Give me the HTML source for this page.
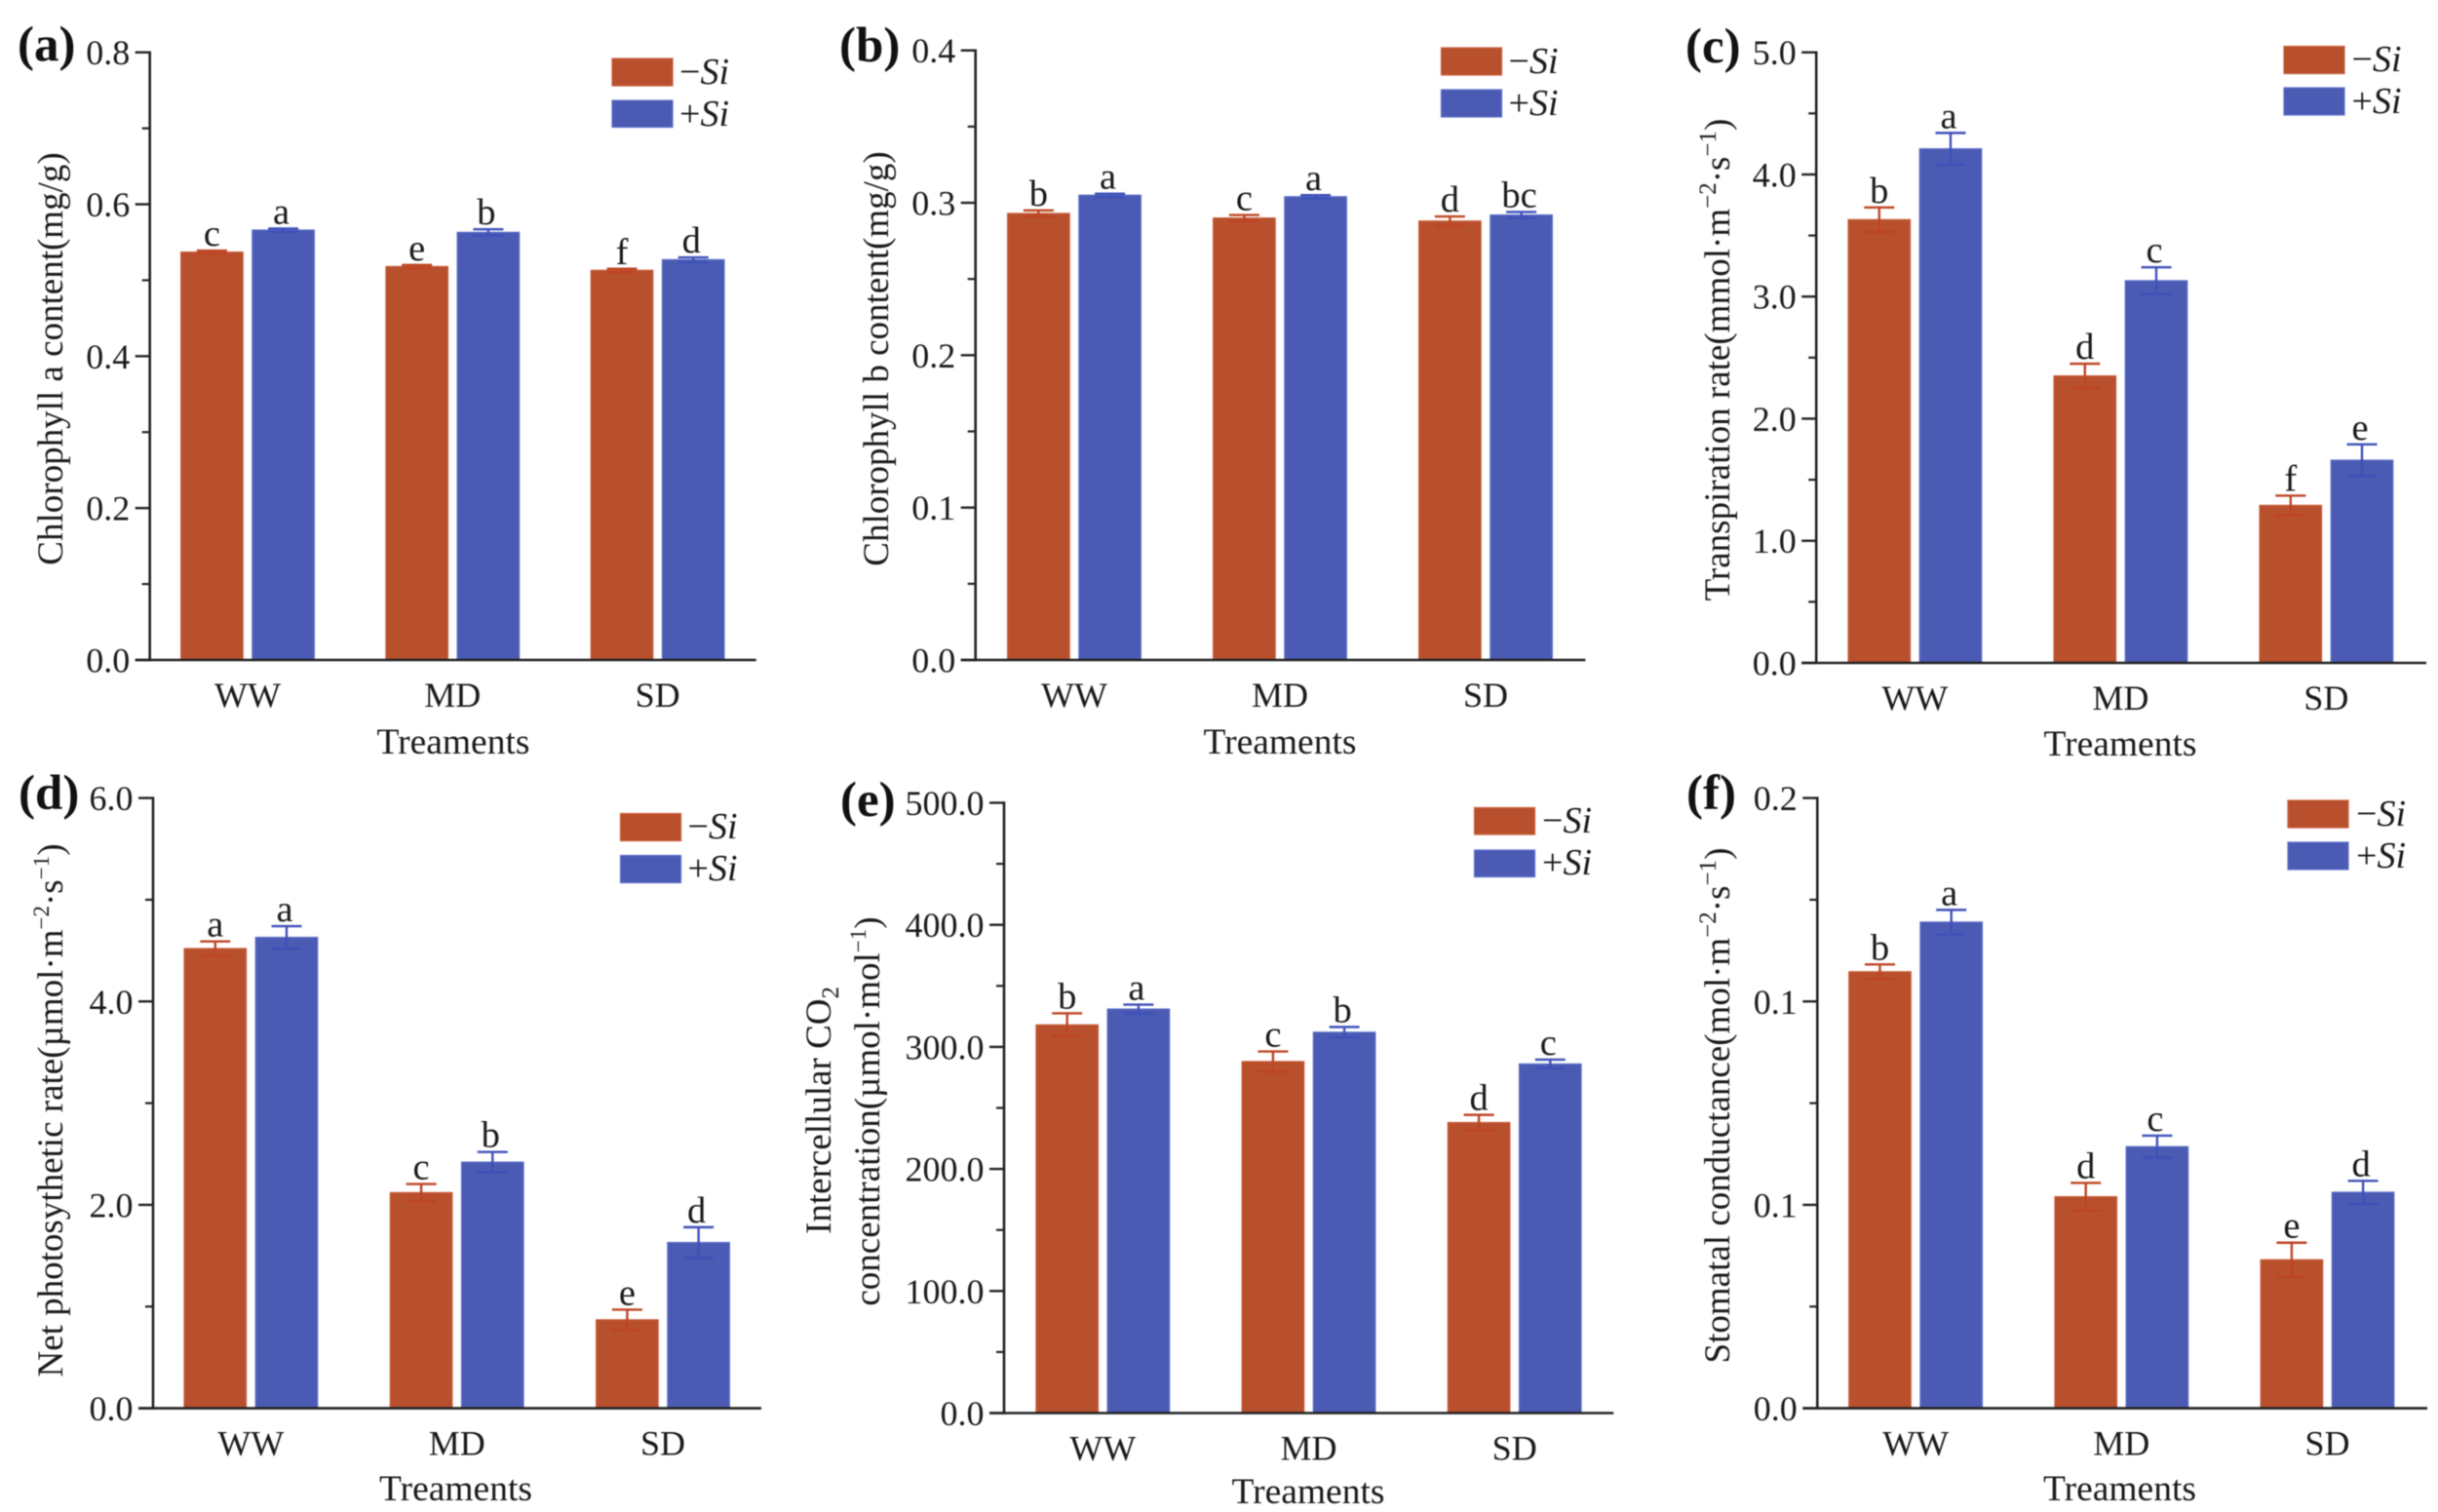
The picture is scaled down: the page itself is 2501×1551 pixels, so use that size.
<!DOCTYPE html>
<html lang="en">
<head>
<meta charset="utf-8">
<title>Physiological responses to Si under drought treatments</title>
<style>
html,body{margin:0;padding:0;background:#fff;width:2501px;height:1551px;overflow:hidden}
svg{display:block;filter:blur(0.6px)}
text{font-family:"Liberation Serif","Times New Roman",serif;fill:#1a1a1a}
.panel-label{font-size:51px;font-weight:bold;fill:#111}
.y-title{font-size:37px;text-anchor:middle}
.x-title{font-size:37.5px;text-anchor:middle}
.legend-text{font-size:38px}
.legend-text tspan{font-style:italic}
</style>
</head>
<body>
<svg id="figure" xmlns="http://www.w3.org/2000/svg" width="2501" height="1551" viewBox="0 0 2501 1551">
  <rect width="2501" height="1551" fill="#fff"/>

  <g id="panel-a">
    <text class="panel-label" x="18" y="62">(a)</text>
    <text class="y-title" transform="translate(64,368) rotate(-90)">Chlorophyll a content(mg/g)</text>
    <text class="x-title" x="465" y="773">Treaments</text>
    <g>
      <rect x="628" y="60" width="62" height="28" fill="#B9502D" stroke="#C8603C" stroke-width="1.2"/>
      <text class="legend-text" x="697" y="86">−<tspan>Si</tspan></text>
      <rect x="628" y="103" width="62" height="27.5" fill="#4B5BB3" stroke="#6072CC" stroke-width="1.2"/>
      <text class="legend-text" x="697" y="129">+<tspan>Si</tspan></text>
    </g>
  </g>

  <g id="panel-b">
    <text class="panel-label" x="861" y="63">(b)</text>
    <text class="y-title" transform="translate(911,368) rotate(-90)">Chlorophyll b content(mg/g)</text>
    <text class="x-title" x="1313" y="773">Treaments</text>
    <g>
      <rect x="1478.5" y="49" width="62" height="28" fill="#B9502D" stroke="#C8603C" stroke-width="1.2"/>
      <text class="legend-text" x="1547.5" y="75">−<tspan>Si</tspan></text>
      <rect x="1478.5" y="92" width="62" height="28" fill="#4B5BB3" stroke="#6072CC" stroke-width="1.2"/>
      <text class="legend-text" x="1547.5" y="118">+<tspan>Si</tspan></text>
    </g>
  </g>

  <g id="panel-c">
    <text class="panel-label" x="1729" y="64">(c)</text>
    <text class="y-title" transform="translate(1774,369) rotate(-90)">Transpiration rate(mmol·m<tspan font-size="25" dy="-14">−2</tspan><tspan dy="14">·s</tspan><tspan font-size="25" dy="-14">−1</tspan><tspan dy="14">)</tspan></text>
    <text class="x-title" x="2175" y="775">Treaments</text>
    <g>
      <rect x="2343" y="47.5" width="62" height="28" fill="#B9502D" stroke="#C8603C" stroke-width="1.2"/>
      <text class="legend-text" x="2412.5" y="73">−<tspan>Si</tspan></text>
      <rect x="2343" y="90" width="62" height="28" fill="#4B5BB3" stroke="#6072CC" stroke-width="1.2"/>
      <text class="legend-text" x="2412.5" y="116">+<tspan>Si</tspan></text>
    </g>
  </g>

  <g id="panel-d">
    <text class="panel-label" x="19" y="830">(d)</text>
    <text class="y-title" transform="translate(64,1139) rotate(-90)">Net photosythetic rate(µmol·m<tspan font-size="23" dy="-14">−2</tspan><tspan dy="14">·s</tspan><tspan font-size="23" dy="-14">−1</tspan><tspan dy="14">)</tspan></text>
    <text class="x-title" x="467.5" y="1539">Treaments</text>
    <g>
      <rect x="636.5" y="834.5" width="62" height="28" fill="#B9502D" stroke="#C8603C" stroke-width="1.2"/>
      <text class="legend-text" x="705.5" y="860">−<tspan>Si</tspan></text>
      <rect x="636.5" y="877.5" width="62" height="28" fill="#4B5BB3" stroke="#6072CC" stroke-width="1.2"/>
      <text class="legend-text" x="705.5" y="903">+<tspan>Si</tspan></text>
    </g>
  </g>

  <g id="panel-e">
    <text class="panel-label" x="862" y="837">(e)</text>
    <text class="y-title" transform="translate(852,1139) rotate(-90)">Intercellular CO<tspan font-size="25" dy="8">2</tspan></text>
    <text class="y-title" transform="translate(902,1140) rotate(-90)">concentration(µmol·mol<tspan font-size="23" dy="-14">−1</tspan><tspan dy="14">)</tspan></text>
    <text class="x-title" x="1342" y="1542">Treaments</text>
    <g>
      <rect x="1512.5" y="828.5" width="62" height="27.5" fill="#B9502D" stroke="#C8603C" stroke-width="1.2"/>
      <text class="legend-text" x="1582" y="854">−<tspan>Si</tspan></text>
      <rect x="1512.5" y="872" width="62" height="27.5" fill="#4B5BB3" stroke="#6072CC" stroke-width="1.2"/>
      <text class="legend-text" x="1582" y="897">+<tspan>Si</tspan></text>
    </g>
  </g>

  <g id="panel-f">
    <text class="panel-label" x="1730" y="830">(f)</text>
    <text class="y-title" transform="translate(1774,1134) rotate(-90)">Stomatal conductance(mol·m<tspan font-size="25" dy="-14">−2</tspan><tspan dy="14">·s</tspan><tspan font-size="25" dy="-14">−1</tspan><tspan dy="14">)</tspan></text>
    <text class="x-title" x="2174.5" y="1539">Treaments</text>
    <g>
      <rect x="2347" y="821" width="62" height="28" fill="#B9502D" stroke="#C8603C" stroke-width="1.2"/>
      <text class="legend-text" x="2417" y="847">−<tspan>Si</tspan></text>
      <rect x="2347" y="864" width="62" height="28" fill="#4B5BB3" stroke="#6072CC" stroke-width="1.2"/>
      <text class="legend-text" x="2417" y="890">+<tspan>Si</tspan></text>
    </g>
  </g>
</svg>

<script>
const categories = ['WW', 'MD', 'SD'];

const aMinusSi = [0.537, 0.518, 0.513];
const aPlusSi = [0.566, 0.563, 0.527];
const aMinusErr = [0.002, 0.002, 0.002];
const aPlusErr = [0.002, 0.004, 0.003];
const aMinusLetters = ['c', 'e', 'f'];
const aPlusLetters = ['a', 'b', 'd'];
const aTicks = [0, 0.2, 0.4, 0.6, 0.8];
const aTickLabels = ['0.0', '0.2', '0.4', '0.6', '0.8'];

const bMinusSi = [0.293, 0.290, 0.288];
const bPlusSi = [0.305, 0.304, 0.292];
const bMinusErr = [0.002, 0.002, 0.003];
const bPlusErr = [0.001, 0.001, 0.002];
const bMinusLetters = ['b', 'c', 'd'];
const bPlusLetters = ['a', 'a', 'bc'];
const bTicks = [0, 0.1, 0.2, 0.3, 0.4];
const bTickLabels = ['0.0', '0.1', '0.2', '0.3', '0.4'];

const cMinusSi = [3.63, 2.35, 1.29];
const cPlusSi = [4.21, 3.13, 1.66];
const cMinusErr = [0.10, 0.10, 0.08];
const cPlusErr = [0.13, 0.11, 0.13];
const cMinusLetters = ['b', 'd', 'f'];
const cPlusLetters = ['a', 'c', 'e'];
const cTicks = [0, 1, 2, 3, 4, 5];
const cTickLabels = ['0.0', '1.0', '2.0', '3.0', '4.0', '5.0'];

const dMinusSi = [4.52, 2.12, 0.87];
const dPlusSi = [4.63, 2.42, 1.63];
const dMinusErr = [0.07, 0.085, 0.10];
const dPlusErr = [0.11, 0.10, 0.15];
const dMinusLetters = ['a', 'c', 'e'];
const dPlusLetters = ['a', 'b', 'd'];
const dTicks = [0, 2, 4, 6];
const dTickLabels = ['0.0', '2.0', '4.0', '6.0'];

const eMinusSi = [318, 288, 238];
const ePlusSi = [331, 312, 286];
const eMinusErr = [9.5, 8.3, 6.3];
const ePlusErr = [3.6, 4.3, 3.6];
const eMinusLetters = ['b', 'c', 'd'];
const ePlusLetters = ['a', 'b', 'c'];
const eTicks = [0, 100, 200, 300, 400, 500];
const eTickLabels = ['0.0', '100.0', '200.0', '300.0', '400.0', '500.0'];

const fMinusSi = [0.1073, 0.052, 0.0365];
const fPlusSi = [0.1195, 0.0643, 0.0531];
const fMinusErr = [0.0018, 0.0034, 0.0042];
const fPlusErr = [0.003, 0.0027, 0.0028];
const fMinusLetters = ['b', 'd', 'e'];
const fPlusLetters = ['a', 'c', 'd'];
const fTicks = [0, 0.05, 0.10, 0.15];
const fTickLabels = ['0.0', '0.1', '0.1', '0.2'];

const panels = [
  {id:'a', minus:aMinusSi, plus:aPlusSi, minusErr:aMinusErr, plusErr:aPlusErr, minusLetters:aMinusLetters, plusLetters:aPlusLetters, ticks:aTicks, tickLabels:aTickLabels, left:153.7, right:775.7, top:53.7, base:677, first:100.3, step:210.3},
  {id:'b', minus:bMinusSi, plus:bPlusSi, minusErr:bMinusErr, plusErr:bPlusErr, minusLetters:bMinusLetters, plusLetters:bPlusLetters, ticks:bTicks, tickLabels:bTickLabels, left:1000.7, right:1626.4, top:51.7, base:677, first:101.3, step:211},
  {id:'c', minus:cMinusSi, plus:cPlusSi, minusErr:cMinusErr, plusErr:cPlusErr, minusLetters:cMinusLetters, plusLetters:cPlusLetters, ticks:cTicks, tickLabels:cTickLabels, left:1863.2, right:2489, top:53.7, base:680, first:101.2, step:211},
  {id:'d', minus:dMinusSi, plus:dPlusSi, minusErr:dMinusErr, plusErr:dPlusErr, minusLetters:dMinusLetters, plusLetters:dPlusLetters, ticks:dTicks, tickLabels:dTickLabels, left:157, right:781, top:818.6, base:1444.6, first:100.4, step:211.3},
  {id:'e', minus:eMinusSi, plus:ePlusSi, minusErr:eMinusErr, plusErr:ePlusErr, minusLetters:eMinusLetters, plusLetters:ePlusLetters, ticks:eTicks, tickLabels:eTickLabels, left:1030, right:1655.2, top:823.5, base:1449.5, first:101.3, step:211.2},
  {id:'f', minus:fMinusSi, plus:fPlusSi, minusErr:fMinusErr, plusErr:fPlusErr, minusLetters:fMinusLetters, plusLetters:fPlusLetters, ticks:fTicks, tickLabels:fTickLabels, left:1864.3, right:2490, top:818.6, base:1444.6, first:100.8, step:211.2}
];

const SVG_NS = 'http://www.w3.org/2000/svg';
const BAR_WIDTH = 63.5;
const BAR_OFFSET = 36.6;
const CAP_WIDTH = 31;
const AXIS_COLOR = '#222222';
const SERIES = {
  minus: {name:'minus-si', fill:'#B9502D', edge:'#C55A36', err:'#BE4423', shift:0},
  plus: {name:'plus-si', fill:'#4B5BB3', edge:'#5A6DC6', err:'#3E50B8', shift:-2}
};

function mk(tag, attrs) {
  const node = document.createElementNS(SVG_NS, tag);
  Object.keys(attrs).forEach(function (k) { node.setAttribute(k, attrs[k]); });
  return node;
}

function drawAxes(p, g, y) {
  const yAxis = mk('line', {x1:p.left, x2:p.left, y1:p.top - 1.2, y2:p.base + 1.2, stroke:AXIS_COLOR, 'stroke-width':2.6});
  
  
  g.appendChild(yAxis);

  const xAxis = mk('line', {x1:p.left - 15, x2:p.right, y1:p.base, y2:p.base, stroke:AXIS_COLOR, 'stroke-width':2.6});
  
  
  g.appendChild(xAxis);

  p.ticks.forEach(function (t, i) {
    const tick = mk('line', {x1:p.left - 15, x2:p.left, y1:y(t), y2:y(t), stroke:AXIS_COLOR, 'stroke-width':2.4});
    
    
    g.appendChild(tick);

    const label = mk('text', {x:p.left - 20.5, y:y(t) + 12.5, 'text-anchor':'end', 'font-size':36});
    
    
    label.textContent = p.tickLabels[i];
    g.appendChild(label);

    if (i < p.ticks.length - 1) {
      const mid = (t + p.ticks[i + 1]) / 2;
      const minor = mk('line', {x1:p.left - 8, x2:p.left, y1:y(mid), y2:y(mid), stroke:AXIS_COLOR, 'stroke-width':2.2});
      
      
      g.appendChild(minor);
    }
  });
}

function drawSeries(p, g, key, sign, y, groupX) {
  const style = SERIES[key];
  const values = p[key];
  const errs = p[key + 'Err'];
  const letters = p[key + 'Letters'];
  values.forEach(function (v, i) {
    const cx = groupX(i) + sign * BAR_OFFSET;
    const top = y(v);
    const hi = y(v + errs[i]);
    const lo = y(v - errs[i]);

    const bar = mk('rect', {x:cx - BAR_WIDTH / 2, y:top, width:BAR_WIDTH, height:p.base - top, fill:style.fill, stroke:style.edge, 'stroke-width':1.2});
    
    
    g.appendChild(bar);

    const stem = mk('line', {x1:cx, x2:cx, y1:hi, y2:lo, stroke:style.err, 'stroke-width':2.4});
    
    
    g.appendChild(stem);

    const capTop = mk('line', {x1:cx - CAP_WIDTH / 2, x2:cx + CAP_WIDTH / 2, y1:hi, y2:hi, stroke:style.err, 'stroke-width':2.4});
    
    
    g.appendChild(capTop);

    const capBottom = mk('line', {x1:cx - CAP_WIDTH / 2, x2:cx + CAP_WIDTH / 2, y1:lo, y2:lo, stroke:style.err, 'stroke-width':2.4});
    
    
    g.appendChild(capBottom);

    const letter = mk('text', {x:cx + style.shift, y:Math.min(hi, top) - 5, 'text-anchor':'middle', 'font-size':38.5});
    
    
    letter.textContent = letters[i];
    g.appendChild(letter);
  });
}

panels.forEach(function (p) {
  const g = document.getElementById('panel-' + p.id);
  const yMax = p.ticks[p.ticks.length - 1];
  const y = function (v) { return p.base - (v / yMax) * (p.base - p.top); };
  const groupX = function (i) { return p.left + p.first + p.step * i; };

  drawSeries(p, g, 'minus', -1, y, groupX);
  drawSeries(p, g, 'plus', 1, y, groupX);
  drawAxes(p, g, y);

  categories.forEach(function (c, i) {
    const label = mk('text', {x:groupX(i), y:p.base + 48, 'text-anchor':'middle', 'font-size':36});
    
    
    label.textContent = c;
    g.appendChild(label);
  });
});
</script>
</body>
</html>
